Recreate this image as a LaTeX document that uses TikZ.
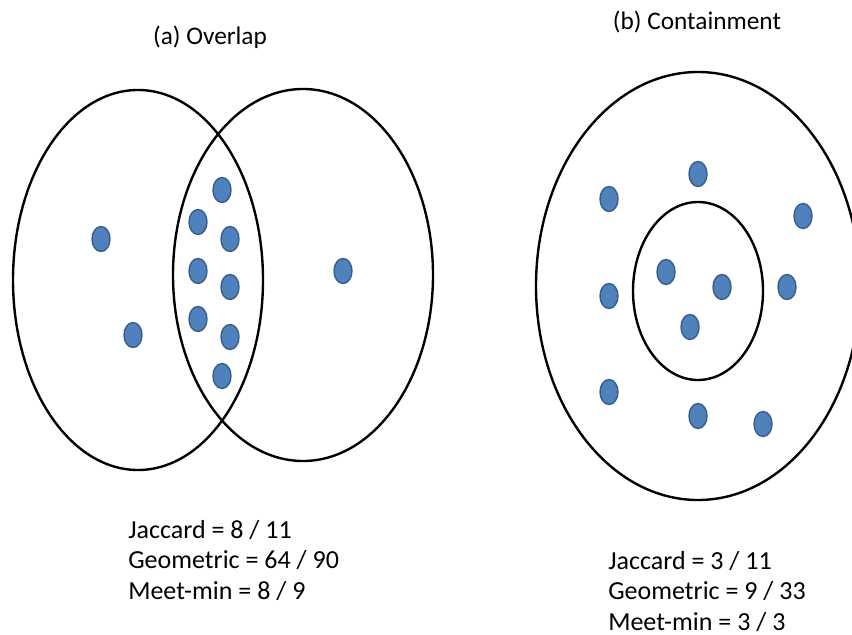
\documentclass[tikz,border=0pt]{standalone}
\usepackage{fontspec}
\setmainfont{Carlito}
\usepackage{xcolor}
\usetikzlibrary{positioning}
\definecolor{dotfill}{HTML}{4F81BD}
\definecolor{dotline}{HTML}{385D8A}

\begin{document}
\begin{tikzpicture}[x=0.025cm, y=-0.025cm,
    dot/.style={fill=dotfill, draw=dotline, line width=1pt},
    set/.style={draw=black, line width=1.7pt},
    title/.style={font=\fontsize{18}{22}\selectfont, inner sep=0pt, anchor=base},
    stat/.style={font=\fontsize{18.5}{22}\selectfont, inner sep=0pt, text height=16.3pt, text depth=5pt, anchor=north west}]
    \useasboundingbox (0,0) rectangle (852,635);
    \clip (0,0) rectangle (852,635);

    % (a) overlap
    \node [title] (titleA) at (210,45) {(a) Overlap};
    \draw [set] (138,280) ellipse [x radius=125, y radius=190];
    \draw [set] (303,275) ellipse [x radius=130, y radius=186];
    \foreach \p in {(101,239), (133,335), (222,190), (198,222), (230,239), (198,271),
                    (230,287), (198,319), (230,337), (222,376), (343,271)}
        \draw [dot] \p ellipse [x radius=9, y radius=12.5];

    \node [stat] (jacA) at (128,515) {Jaccard = 8 / 11};
    \node [stat, below=0pt of jacA.south west, anchor=north west] (geoA) {Geometric = 64 / 90};
    \node [stat, below=0pt of geoA.south west, anchor=north west] (minA) {Meet-min = 8 / 9};

    % (b) containment
    \node [title] (titleB) at (697,30) {(b) Containment};
    \draw [set] (698,286) ellipse [x radius=162, y radius=214];
    \draw [set] (698,291) ellipse [x radius=65, y radius=89];
    \foreach \p in {(698,174), (609,199), (803,216), (666,272), (722,287), (787,287),
                    (609,296), (690,327), (609,392), (698,416), (763,424)}
        \draw [dot] \p ellipse [x radius=9, y radius=12.5];

    \node [stat] (jacB) at (608,546) {Jaccard = 3 / 11};
    \node [stat, below=0pt of jacB.south west, anchor=north west] (geoB) {Geometric = 9 / 33};
    \node [stat, text depth=0pt, below=0pt of geoB.south west, anchor=north west] (minB) {Meet-min = 3 / 3};
\end{tikzpicture}
\end{document}
